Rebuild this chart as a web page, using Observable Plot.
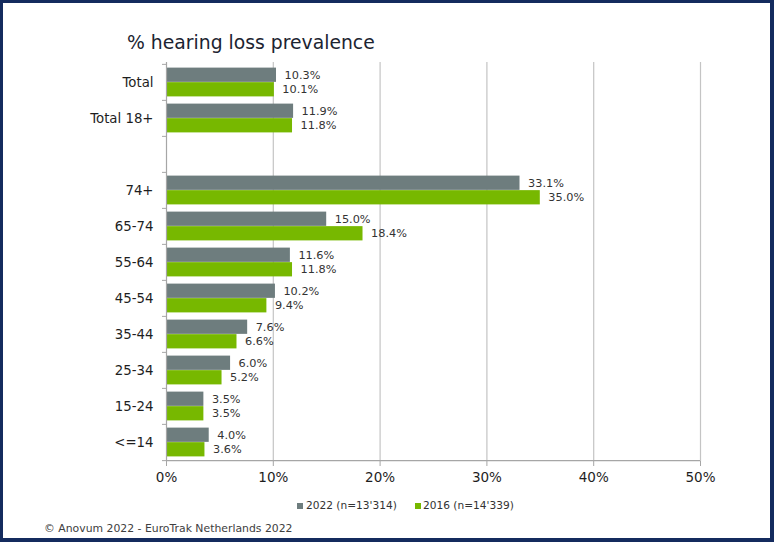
<!DOCTYPE html>
<html>
<head>
<meta charset="utf-8">
<script src="https://cdn.jsdelivr.net/npm/d3@7"></script>
<script src="https://cdn.jsdelivr.net/npm/@observablehq/plot@0.6"></script>
<style>
  html, body { margin: 0; padding: 0; background: #fff; }
  body { width: 774px; height: 542px; position: relative; overflow: hidden; font-family: "DejaVu Sans", Verdana, sans-serif; }
  .frame { position: absolute; left: 0; top: 0; width: 774px; height: 542px; box-sizing: border-box;
           border-style: solid; border-color: #142b5e; border-width: 3px 4px 4px 3px; pointer-events: none; }
  #chart { position: absolute; left: 0; top: 0; }
  .title { position: absolute; left: 127px; top: 34px; font-size: 18.8px; line-height: 18.8px; color: #1c2431; white-space: nowrap; }
  .legend { position: absolute; top: 500px; font-size: 10.6px; line-height: 10.6px; color: #333; white-space: nowrap; }
  .swatch { position: absolute; width: 6px; height: 6px; top: 503px; }
  .footer { position: absolute; left: 44px; top: 524px; font-size: 10.85px; line-height: 10.85px; color: #404040; white-space: nowrap; }
</style>
</head>
<body>
<div id="chart"></div>
<div class="title">% hearing loss prevalence</div>
<div class="swatch" style="left:297px;background:#6e7d7e"></div>
<div class="legend" style="left:306px">2022 (n=13'314)</div>
<div class="swatch" style="left:415px;background:#77b800"></div>
<div class="legend" style="left:423px">2016 (n=14'339)</div>
<div class="footer">© Anovum 2022 - EuroTrak Netherlands 2022</div>
<div class="frame"></div>
<script>
// Age groups (the empty entry is the spacer row between totals and age bands)
const categories = ["Total", "Total 18+", "", "74+", "65-74", "55-64", "45-54", "35-44", "25-34", "15-24", "<=14"];
const values2022 = [10.3, 11.9, null, 33.1, 15.0, 11.6, 10.2, 7.6, 6.0, 3.5, 4.0];
const values2016 = [10.1, 11.8, null, 35.0, 18.4, 11.8, 9.4, 6.6, 5.2, 3.5, 3.6];
const xTicks = [0, 10, 20, 30, 40, 50];

const color2022 = "#6e7d7e";
const color2016 = "#77b800";

const toRows = (vals) => categories
  .map((category, i) => ({category, value: vals[i]}))
  .filter(d => d.value != null);
const rows2022 = toRows(values2022);
const rows2016 = toRows(values2016);

const height = 500, marginTop = 62, marginBottom = 39;
const step = (height - marginTop - marginBottom) / categories.length;
const half = step / 2;
const fmt = d => d.value.toFixed(1) + "%";

const chart = Plot.plot({
  width: 774,
  height,
  marginLeft: 166,
  marginRight: 74,
  marginTop,
  marginBottom,
  style: {fontFamily: "DejaVu Sans, Verdana, sans-serif", fontSize: "11.3px", color: "#333", background: "transparent"},
  x: {domain: [0, 50]},
  y: {type: "band", domain: categories, padding: 0},
  marks: [
    Plot.ruleX(xTicks.slice(1), {stroke: "#c4c4c4", strokeWidth: 1.2}),
    Plot.barX(rows2022, {x: "value", y: "category", fill: color2022, insetTop: 3.6, insetBottom: half}),
    Plot.barX(rows2016, {x: "value", y: "category", fill: color2016, insetTop: half, insetBottom: 3.6}),
    Plot.text(rows2022, {x: "value", y: "category", text: fmt, textAnchor: "start", dx: 8, dy: -7.3, fill: "#333", fontSize: 11.3}),
    Plot.text(rows2016, {x: "value", y: "category", text: fmt, textAnchor: "start", dx: 8, dy: 7.3, fill: "#333", fontSize: 11.3}),
    // left axis line and bottom axis line
    Plot.ruleX([0], {stroke: "#a6a6a6", strokeWidth: 1.2}),
    Plot.ruleY([categories[categories.length - 1]], {dy: half, stroke: "#a6a6a6", strokeWidth: 1.2}),
    // category labels
    Plot.axisY({tickSize: 0, tickPadding: 13, tickFormat: d => d, fontSize: 13.3, fill: "#1e1e1e", label: null}),
    // tick marks on band boundaries
    Plot.axisY({tickSize: 4, dy: -half, tickFormat: () => "", stroke: "#a6a6a6", label: null}),
    Plot.axisY({ticks: [categories[categories.length - 1]], tickSize: 4, dy: half, tickFormat: () => "", stroke: "#a6a6a6", label: null}),
    Plot.axisX({ticks: xTicks, tickSize: 5, tickPadding: 6, tickFormat: d => d + "%", fontSize: 13.5, fill: "#1e1e1e", stroke: "#a6a6a6", label: null})
  ]
});
document.getElementById("chart").appendChild(chart);
</script>
</body>
</html>
